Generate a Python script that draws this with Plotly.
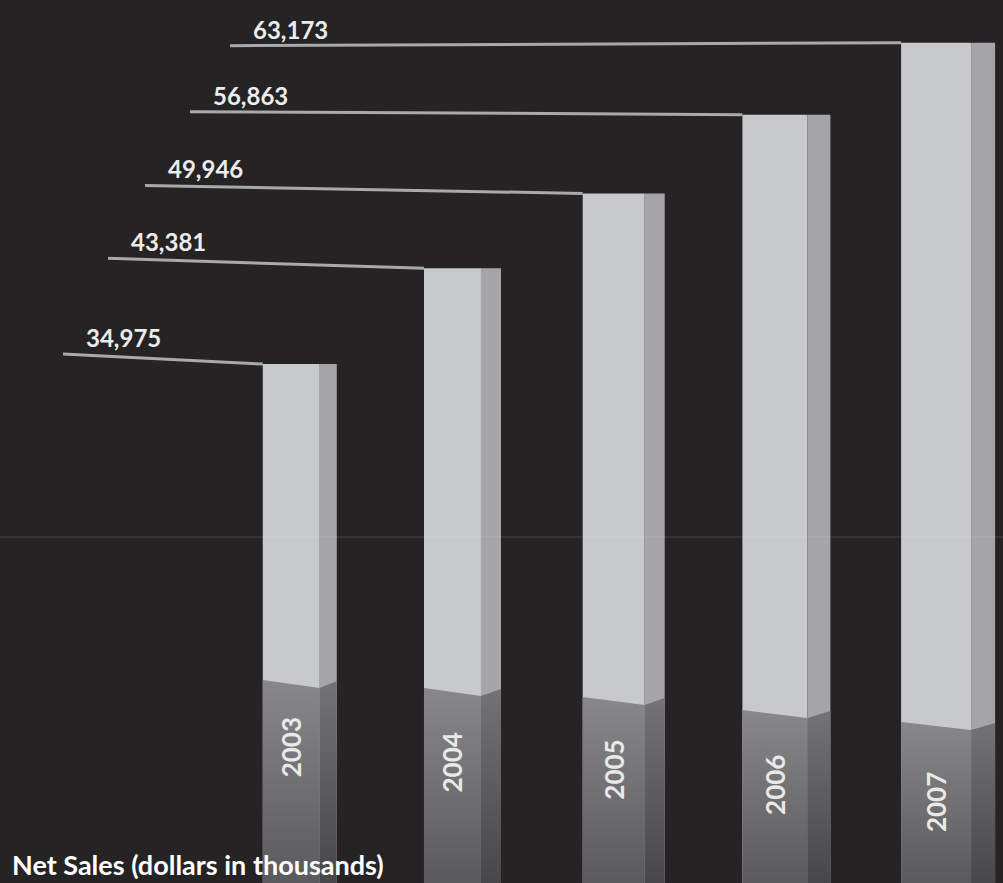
import plotly.graph_objects as go

# ---- data ----
years = [2003, 2004, 2005, 2006, 2007]
net_sales = [34975, 43381, 49946, 56863, 63173]
year_labels = ["2003", "2004", "2005", "2006", "2007"]
title_text = "Net Sales (dollars in thousands)"

# ---- styling / geometry (pixels, perspective look) ----
W, H = 1003, 883
BG = "#252324"
FRONT = "#c8c9cb"
SIDE = "#a5a5a8"
X_RANGE = [2001.193, 2007.415]
Y_RANGE = [-10555, 66921]
front_px = [57, 57, 62, 65, 70]        # front face width
side_px = [17, 20, 20, 23, 24]         # side face depth
floor_px = [680, 688, 697, 710, 722]   # where darker floor shading starts
leader_start_px = [63, 108, 145, 190, 230]
leader_tilt_px = [-10, -10, -8, -3, 3]
year_lbl_off_px = [67, 74, 73, 75, 80]


def x_per_px():
    return (X_RANGE[1] - X_RANGE[0]) / W


def y_per_px():
    return (Y_RANGE[1] - Y_RANGE[0]) / H


def px2x(px):
    return X_RANGE[0] + px * x_per_px()


def px2y(py):
    return Y_RANGE[1] - py * y_per_px()


def y2px(y):
    return (Y_RANGE[1] - y) / y_per_px()


fw = [p * x_per_px() for p in front_px]
sw = [p * x_per_px() for p in side_px]

fig = go.Figure()

# front faces
fig.add_trace(go.Bar(
    x=years, y=[v - Y_RANGE[0] for v in net_sales], base=Y_RANGE[0],
    width=fw, offset=[-w / 2 for w in fw],
    marker=dict(color=FRONT, line=dict(width=0)),
    hoverinfo="skip", showlegend=False))
# side faces
fig.add_trace(go.Bar(
    x=years, y=[v - Y_RANGE[0] for v in net_sales], base=Y_RANGE[0],
    width=sw, offset=[w / 2 for w in fw],
    marker=dict(color=SIDE, line=dict(width=0)),
    hoverinfo="skip", showlegend=False))

# floor shading (lower darker portion)
for i, yr in enumerate(years):
    xl = yr - fw[i] / 2
    xr = yr + fw[i] / 2
    xs = xr + sw[i]
    f = floor_px[i]
    yb = Y_RANGE[0]
    fig.add_trace(go.Scatter(
        x=[xl, xr, xr, xl, xl],
        y=[px2y(f), px2y(f + 8), yb, yb, px2y(f)],
        mode="lines", line=dict(width=0), fill="toself",
        fillgradient=dict(type="vertical",
                          colorscale=[[0, "#5a5a5d"], [1, "#88888b"]]),
        hoverinfo="skip", showlegend=False))
    fig.add_trace(go.Scatter(
        x=[xr, xs, xs, xr, xr],
        y=[px2y(f + 8), px2y(f + 1), yb, yb, px2y(f + 8)],
        mode="lines", line=dict(width=0), fill="toself",
        fillgradient=dict(type="vertical",
                          colorscale=[[0, "#474749"], [1, "#737376"]]),
        hoverinfo="skip", showlegend=False))

shapes = []
annotations = []
for i, (yr, v) in enumerate(zip(years, net_sales)):
    x0 = px2x(leader_start_px[i])
    y0 = px2y(y2px(v) + leader_tilt_px[i])
    x1 = yr - fw[i] / 2
    shapes.append(dict(type="line", xref="x", yref="y", x0=x0, y0=y0,
                       x1=x1, y1=v, line=dict(color="#aaaaab", width=3)))
    annotations.append(dict(
        x=x0, y=y0, xref="x", yref="y", text=f"{v:,}", showarrow=False,
        xanchor="left", yanchor="bottom", xshift=21, yshift=0,
        font=dict(family="Lato", size=24, color="#ececec", weight="bold")))
    annotations.append(dict(
        x=yr, y=px2y(floor_px[i] + year_lbl_off_px[i]), xref="x", yref="y",
        text=year_labels[i], showarrow=False, textangle=-90,
        xanchor="center", yanchor="middle",
        font=dict(family="Lato", size=26, color="#e9e9e9", weight="bold")))

annotations.append(dict(
    x=10 / W, y=0, xref="paper", yref="paper", text=title_text,
    showarrow=False, xanchor="left", yanchor="bottom",
    font=dict(family="Lato", size=27, color="#ffffff", weight="bold")))

# faint horizontal seam
shapes.append(dict(type="line", xref="paper", yref="paper", x0=0, x1=1,
                   y0=1 - 537 / H, y1=1 - 537 / H, layer="above",
                   line=dict(color="rgba(255,255,255,0.14)", width=1)))

fig.update_layout(
    width=W, height=H, margin=dict(l=0, r=0, t=0, b=0),
    paper_bgcolor=BG, plot_bgcolor=BG, barmode="overlay",
    xaxis=dict(range=X_RANGE, visible=False, fixedrange=True),
    yaxis=dict(range=Y_RANGE, visible=False, fixedrange=True),
    shapes=shapes, annotations=annotations, showlegend=False)

fig.write_html("out.html")
